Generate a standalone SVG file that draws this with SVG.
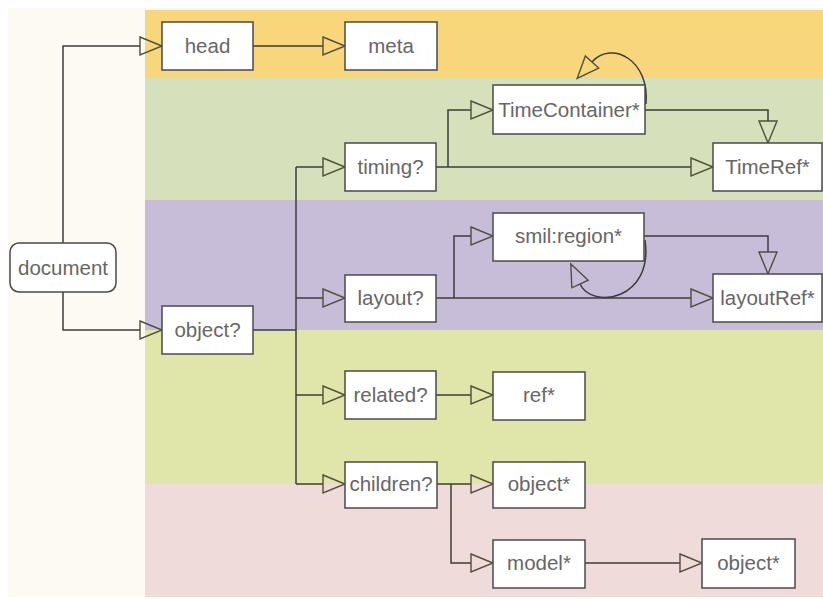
<svg xmlns="http://www.w3.org/2000/svg" width="823" height="599" viewBox="0 0 823 599">
<style>
.node rect{fill:#ffffff;stroke:#4a4a4a;stroke-width:1.5}
.node text{font-family:"Liberation Sans",Arial,sans-serif;font-size:20.5px;fill:#666666;text-anchor:middle}
.conn path{fill:none;stroke:#3c3c3c;stroke-width:1.5}
.conn path.a{marker-end:url(#tri)}
</style>
<defs>
<marker id="tri" markerUnits="userSpaceOnUse" markerWidth="26" markerHeight="22" refX="0" refY="9" orient="auto" overflow="visible">
<path d="M0,0 L22,9 L0,18 Z" fill="none" stroke="#4f4f3c" stroke-width="1.4"/>
</marker>
</defs>
<rect x="0" y="0" width="823" height="599" fill="#ffffff"/>
<rect x="8" y="8" width="815" height="589" fill="#fdfaf4"/>
<g id="bands">
<rect x="145" y="10" width="678" height="68" fill="#f8d67b"/>
<rect x="145" y="78" width="678" height="122" fill="#d6e1bc"/>
<rect x="145" y="200" width="678" height="130" fill="#c8bdd8"/>
<rect x="145" y="330" width="678" height="154" fill="#e0e6aa"/>
<rect x="145" y="484" width="678" height="113" fill="#f0dbdb"/>
</g>
<g id="connectors" class="conn">
<path class="a" d="M63,243 V46 H140"/>
<path class="a" d="M63,292 V330 H140"/>
<path class="a" d="M253,46 H323"/>
<path d="M253,330 H296"/>
<path d="M296,167 V484"/>
<path class="a" d="M296,167 H323"/>
<path class="a" d="M296,298 H323"/>
<path class="a" d="M296,395 H323"/>
<path class="a" d="M296,484 H323"/>
<path class="a" d="M436,167 H691"/>
<path class="a" d="M448,167 V110 H471"/>
<path class="a" d="M645,110 H768 V121"/>
<path class="a" d="M646,104 C650,60 612,40 592,62"/>
<path class="a" d="M436,298 H691"/>
<path class="a" d="M454,298 V236 H471"/>
<path class="a" d="M644,236 H768 V252"/>
<path class="a" d="M645,240 C654,300 592,310 580,284"/>
<path class="a" d="M436,395 H471"/>
<path class="a" d="M437,484 H471"/>
<path class="a" d="M451,484 V563 H471"/>
<path class="a" d="M585,563 H680"/>
</g>
<g id="document" class="node"><rect x="10" y="243" width="106" height="49" rx="9"/><text x="63" y="275">document</text></g>
<g id="head" class="node"><rect x="162" y="22" width="91" height="48"/><text x="207.5" y="53">head</text></g>
<g id="meta" class="node"><rect x="345" y="22" width="92" height="48"/><text x="391" y="53">meta</text></g>
<g id="timing" class="node"><rect x="345" y="143" width="91" height="48"/><text x="390.5" y="174">timing?</text></g>
<g id="TimeContainer" class="node"><rect x="493" y="85" width="152" height="49"/><text x="569" y="117">TimeContainer*</text></g>
<g id="TimeRef" class="node"><rect x="713" y="143" width="109" height="48"/><text x="767.5" y="174">TimeRef*</text></g>
<g id="object" class="node"><rect x="162" y="306" width="91" height="48"/><text x="207.5" y="337">object?</text></g>
<g id="layout" class="node"><rect x="345" y="275" width="91" height="47"/><text x="390.5" y="305">layout?</text></g>
<g id="smilregion" class="node"><rect x="493" y="213" width="151" height="48"/><text x="568.5" y="243">smil:region*</text></g>
<g id="layoutRef" class="node"><rect x="713" y="274" width="109" height="48"/><text x="767.5" y="305">layoutRef*</text></g>
<g id="related" class="node"><rect x="345" y="371" width="91" height="48"/><text x="390.5" y="402">related?</text></g>
<g id="ref" class="node"><rect x="493" y="372" width="92" height="48"/><text x="539" y="402">ref*</text></g>
<g id="children" class="node"><rect x="345" y="462" width="92" height="46"/><text x="391" y="491">children?</text></g>
<g id="object1" class="node"><rect x="493" y="462" width="92" height="46"/><text x="539" y="491">object*</text></g>
<g id="model" class="node"><rect x="493" y="540" width="92" height="48"/><text x="539" y="570">model*</text></g>
<g id="object2" class="node"><rect x="702" y="539" width="93" height="49"/><text x="748.5" y="570">object*</text></g>
</svg>
